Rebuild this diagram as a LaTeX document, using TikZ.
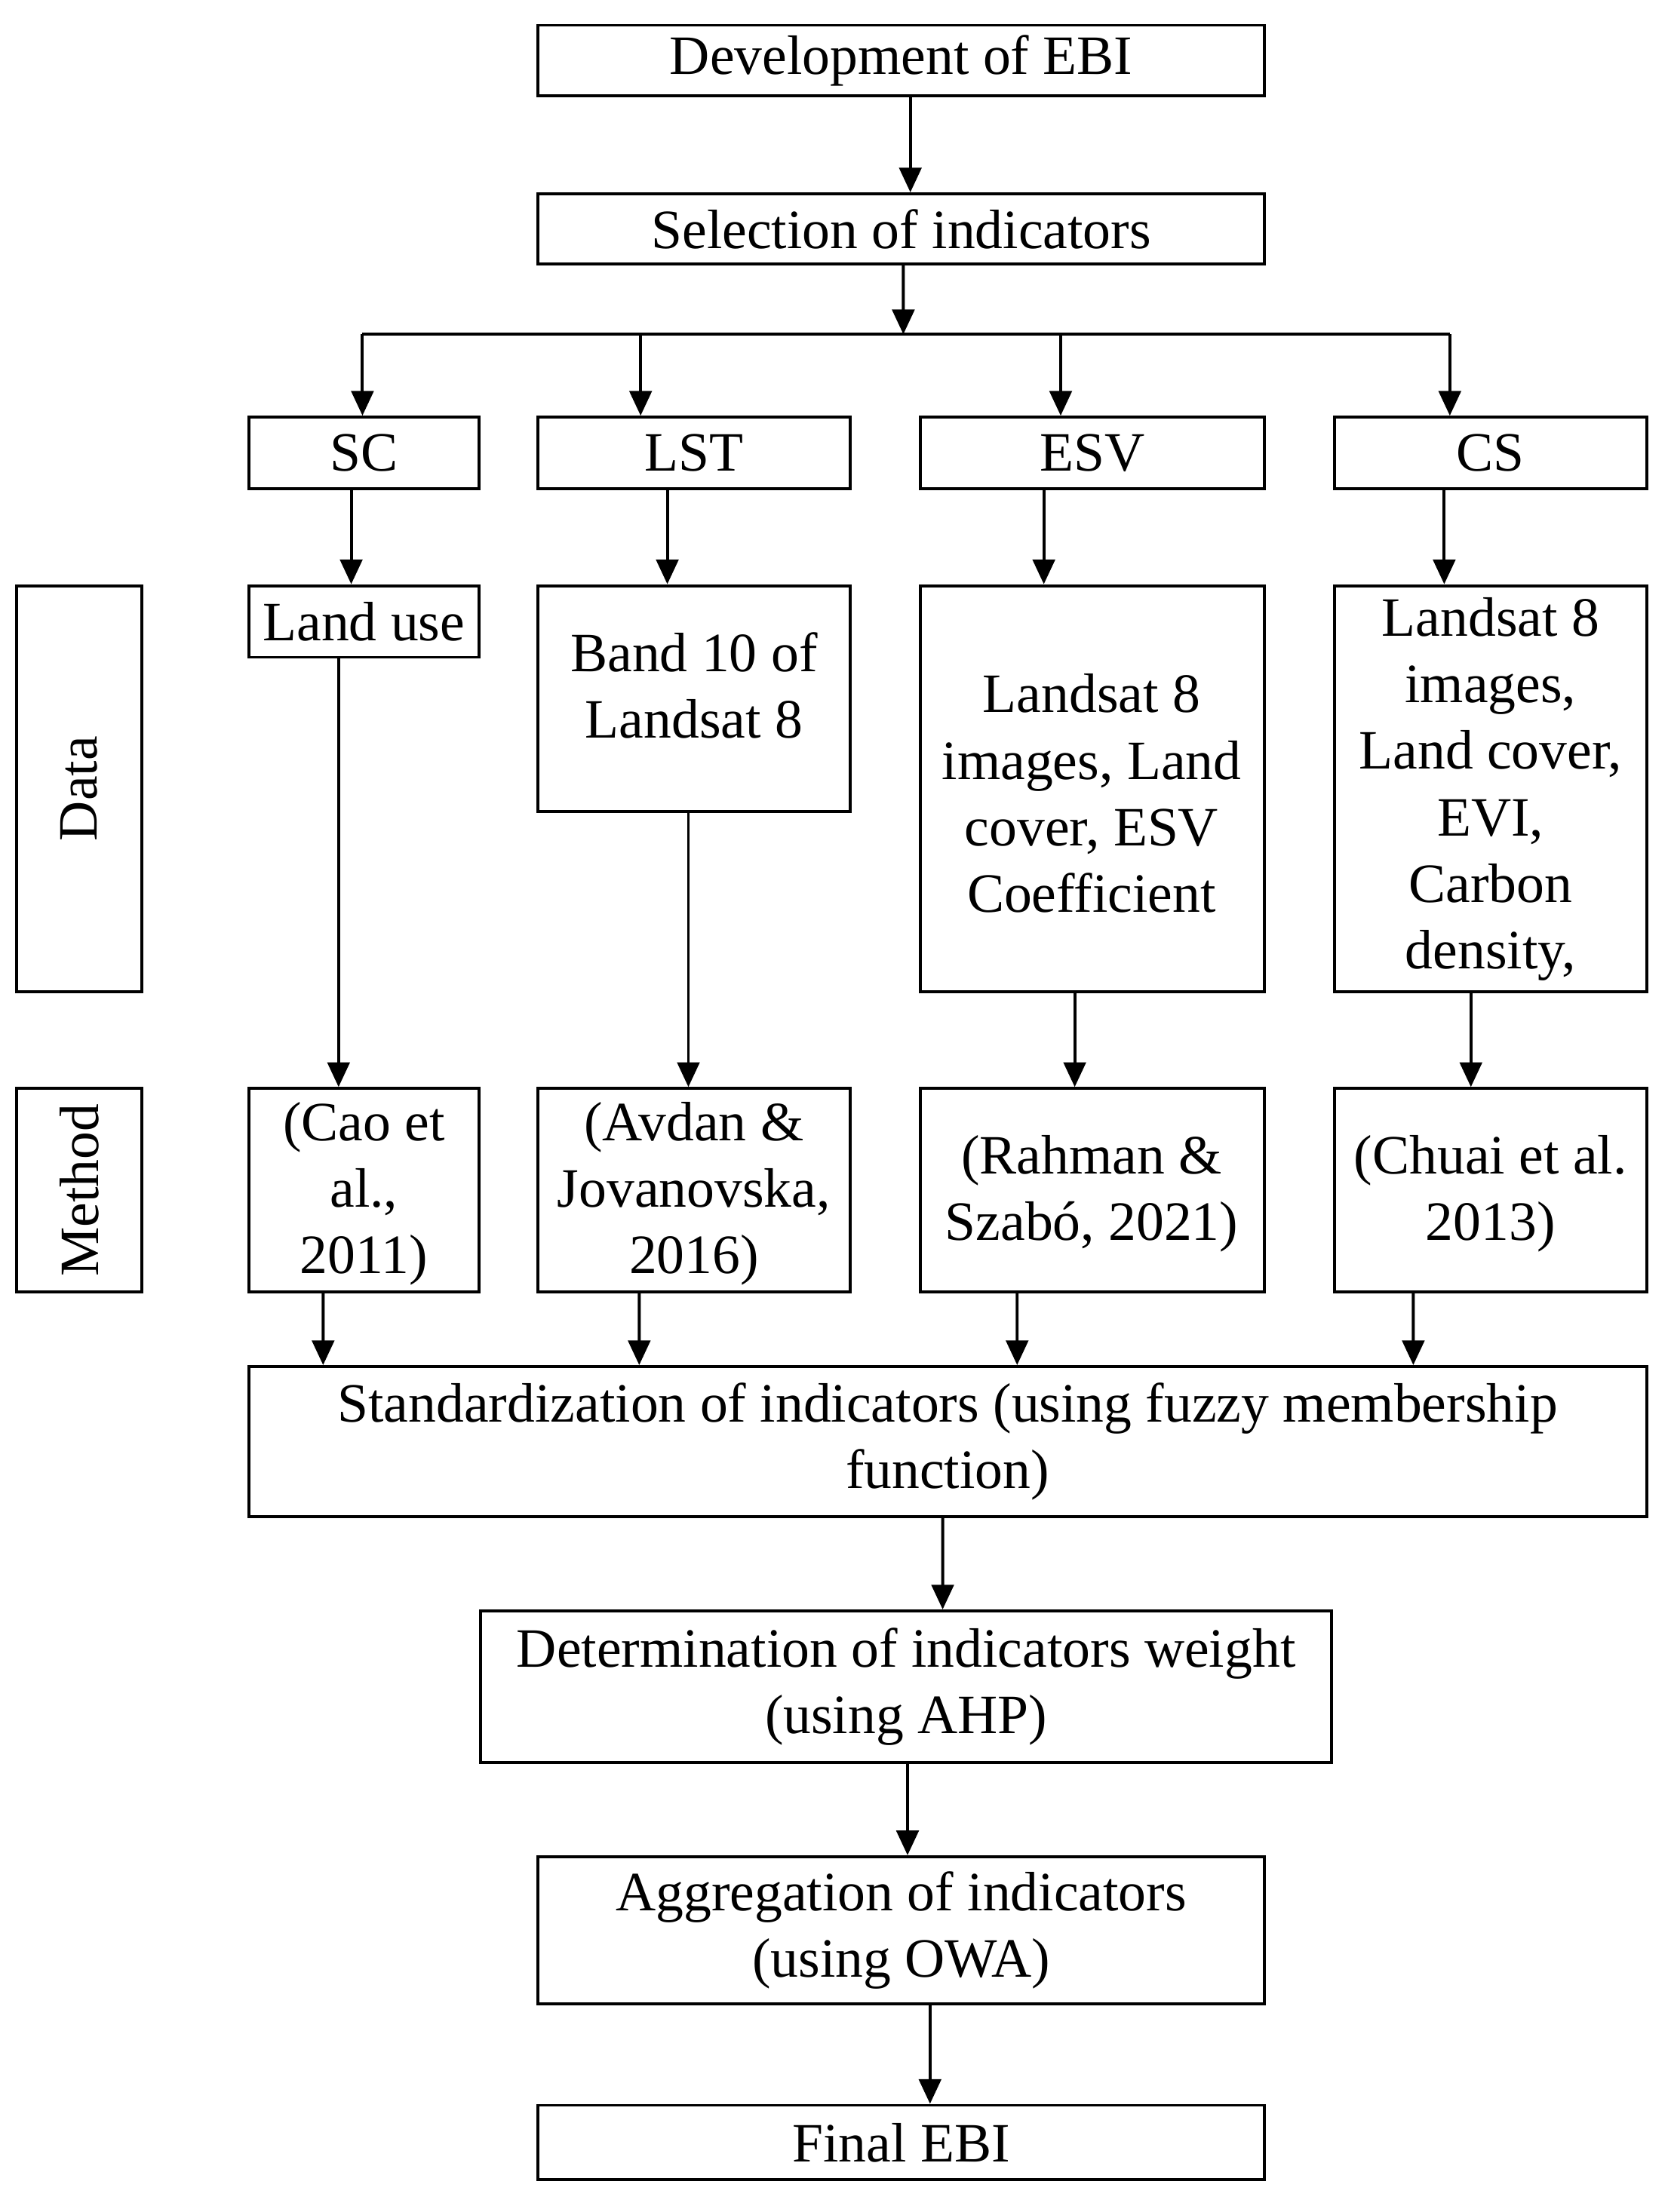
\documentclass[tikz,border=0pt]{standalone}
\usepackage{fontspec}
\setmainfont{Liberation Serif}
\usetikzlibrary{fit,arrows.meta}
\begin{document}
\fontsize{22.5pt}{27pt}\selectfont
\begin{tikzpicture}[x=0.02cm,y=-0.02cm,
 box/.style={draw,line width=1.2pt,inner sep=0pt},
 txt/.style={align=center,inner sep=0pt},
 arr/.style={line width=1.2pt,-{Triangle[width=9pt,length=10pt]}}]
\useasboundingbox (0,0) rectangle (1189,1575);
\node[box,fit={(383,18)(900,68)}] (dev) {};
\node[txt] at (dev) {Development of EBI};
\node[box,fit={(383,138)(900,188)}] (sel) {};
\node[txt] at (sel) {Selection of indicators};
\node[box,fit={(177,297)(341,348)}] (sc) {};
\node[txt] at (sc) {SC};
\node[box,fit={(383,297)(605,348)}] (lst) {};
\node[txt] at (lst) {LST};
\node[box,fit={(655,297)(900,348)}] (esv) {};
\node[txt] at (esv) {ESV};
\node[box,fit={(950,297)(1172,348)}] (cs) {};
\node[txt] at (cs) {CS};
\node[box,fit={(12,417)(101,706)}] (data) {};
\node[txt,rotate=90] at (data) {Data};
\node[box,fit={(12,775)(101,920)}] (meth) {};
\node[txt,rotate=90] at (meth) {Method};
\node[box,fit={(177,417)(341,468)}] (d1) {};
\node[txt] at (d1) {Land use};
\node[box,fit={(383,417)(605,578)}] (d2) {};
\node[txt] at (494,488) {Band 10 of\\Landsat 8};
\node[box,fit={(655,417)(900,706)}] (d3) {};
\node[txt] at (777,565) {Landsat 8\\images, Land\\cover, ESV\\Coefficient};
\node[box,fit={(950,417)(1172,706)}] (d4) {};
\node[txt,anchor=north] at (1061,425) {Landsat 8\\images,\\Land cover,\\EVI,\\Carbon\\density,};
\node[box,fit={(177,775)(341,920)}] (m1) {};
\node[txt] at (259,850) {(Cao et\\al.,\\2011)};
\node[box,fit={(383,775)(605,920)}] (m2) {};
\node[txt] at (494,850) {(Avdan \&\\Jovanovska,\\2016)};
\node[box,fit={(655,775)(900,920)}] (m3) {};
\node[txt] at (777,850) {(Rahman \&\\Szabó, 2021)};
\node[box,fit={(950,775)(1172,920)}] (m4) {};
\node[txt] at (1061,850) {(Chuai et al.\\2013)};
\node[box,fit={(177,973)(1172,1080)}] (std) {};
\node[txt] at (std) {Standardization of indicators (using fuzzy membership\\function)};
\node[box,fit={(342,1147)(948,1255)}] (det) {};
\node[txt] at (det) {Determination of indicators weight\\(using AHP)};
\node[box,fit={(383,1322)(900,1427)}] (agg) {};
\node[txt] at (agg) {Aggregation of indicators\\(using OWA)};
\node[box,fit={(383,1499)(900,1552)}] (fin) {};
\node[txt] at (fin) {Final EBI};
\coordinate (bus) at (643,238);
\coordinate (bl) at (258,238);
\coordinate (br) at (1032,238);
\draw[arr] ([xshift=0.13cm]dev.south) -- ([xshift=0.13cm]sel.north);
\draw[arr] ([xshift=0.03cm]sel.south) -- (bus);
\draw[line width=1.2pt] (bl) -- (br);
\draw[arr] (bl) -- (sc.north -| bl);
\draw[arr] (456,238) -- (lst.north -| 456,0);
\draw[arr] (755,238) -- (esv.north -| 755,0);
\draw[arr] (br) -- (cs.north -| br);
\draw[arr] ([xshift=-0.18cm]sc.south) -- ([xshift=-0.18cm]d1.north);
\draw[arr] ([xshift=-0.38cm]lst.south) -- ([xshift=-0.38cm]d2.north);
\draw[arr] ([xshift=-0.69cm]esv.south) -- ([xshift=-0.69cm]d3.north);
\draw[arr] ([xshift=-0.66cm]cs.south) -- ([xshift=-0.66cm]d4.north);
\draw[arr] ([xshift=-0.36cm]d1.south) -- ([xshift=-0.36cm]m1.north);
\draw[arr] ([xshift=-0.08cm]d2.south) -- ([xshift=-0.08cm]m2.north);
\draw[arr] ([xshift=-0.25cm]d3.south) -- ([xshift=-0.25cm]m3.north);
\draw[arr] ([xshift=-0.28cm]d4.south) -- ([xshift=-0.28cm]m4.north);
\draw[arr] ([xshift=-0.58cm]m1.south) -- (std.north -| 230,0);
\draw[arr] ([xshift=-0.78cm]m2.south) -- (std.north -| 455,0);
\draw[arr] ([xshift=-1.07cm]m3.south) -- (std.north -| 724,0);
\draw[arr] ([xshift=-1.10cm]m4.south) -- (std.north -| 1006,0);
\draw[arr] ([xshift=-0.07cm]std.south) -- ([xshift=0.52cm]det.north);
\draw[arr] ([xshift=0.02cm]det.south) -- ([xshift=0.09cm]agg.north);
\draw[arr] ([xshift=0.41cm]agg.south) -- ([xshift=0.41cm]fin.north);
\end{tikzpicture}
\end{document}
